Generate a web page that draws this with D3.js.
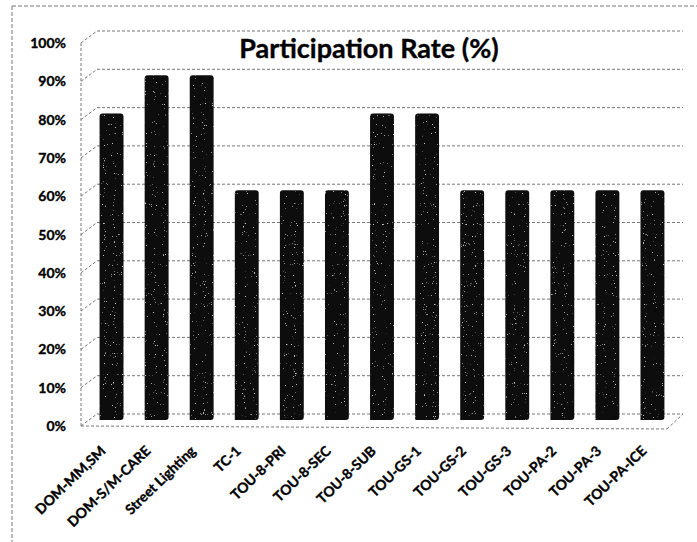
<!DOCTYPE html>
<html>
<head>
<meta charset="utf-8">
<script src="https://cdn.jsdelivr.net/npm/d3@7"></script>
<style>
  html, body { margin: 0; padding: 0; background: #fff; }
  svg { display: block; }
  text { font-family: Lato, "Open Sans", sans-serif; font-weight: 700; fill: #000; stroke: #000; stroke-width: 0.35px; }
</style>
</head>
<body>
<svg id="chart" width="697" height="542"></svg>
<script>
// Participation rate by rate schedule
const categories = ["DOM-MM,SM", "DOM-S/M-CARE", "Street Lighting", "TC-1", "TOU-8-PRI",
  "TOU-8-SEC", "TOU-8-SUB", "TOU-GS-1", "TOU-GS-2", "TOU-GS-3", "TOU-PA-2", "TOU-PA-3", "TOU-PA-ICE"];
const participation = [80, 90, 90, 60, 60, 60, 80, 80, 60, 60, 60, 60, 60];
const yTicks = [0, 10, 20, 30, 40, 50, 60, 70, 80, 90, 100];
const chartTitle = "Participation Rate (%)";

const W = 697, H = 542;
const svg = d3.select("#chart");

// 3D depth offset of the back wall relative to the front plane
const depth = { dx: 16, dy: -12 };

const x = d3.scaleBand().domain(categories).range([81, 667]).paddingInner(0.47).paddingOuter(0.235);
const y = d3.scaleLinear().domain([0, 100]).range([426, 43]);

// grainy fill for the bars
const defs = svg.append("defs");
const f = defs.append("filter").attr("id", "grain").attr("x", 0).attr("y", 0).attr("width", 1).attr("height", 1);
f.append("feTurbulence").attr("type", "fractalNoise").attr("baseFrequency", 0.9).attr("numOctaves", 1).attr("seed", 7).attr("result", "noise");
f.append("feColorMatrix").attr("in", "noise").attr("type", "matrix")
  .attr("values", "0 0 0 0 0.6  0 0 0 0 0.6  0 0 0 0 0.6  14 0 0 0 -9.7").attr("result", "specks");
f.append("feComposite").attr("in", "specks").attr("in2", "SourceGraphic").attr("operator", "in").attr("result", "specksIn");
const merge = f.append("feMerge");
merge.append("feMergeNode").attr("in", "SourceGraphic");
merge.append("feMergeNode").attr("in", "specksIn");

// outer chart frame
const frame = svg.append("g").attr("stroke", "#777").attr("stroke-width", 1).attr("stroke-dasharray", "4,2").attr("fill", "none");
frame.append("line").attr("x1", 12).attr("y1", 6).attr("x2", W).attr("y2", 6);
frame.append("line").attr("x1", 12).attr("y1", 6).attr("x2", 12).attr("y2", H);

// gridlines on the back wall plus the left-wall diagonals
const grid = svg.append("g").attr("stroke", "#777").attr("stroke-width", 1).attr("stroke-dasharray", "3,2").attr("fill", "none");
const xFront0 = 81, xFront1 = 667;
yTicks.forEach(t => {
  const yf = y(t);
  grid.append("line").attr("x1", xFront0).attr("y1", yf).attr("x2", xFront0 + depth.dx).attr("y2", yf + depth.dy);
  grid.append("line").attr("x1", xFront0 + depth.dx).attr("y1", yf + depth.dy).attr("x2", xFront1 + depth.dx).attr("y2", yf + depth.dy);
});
// left wall front edge
grid.append("line").attr("x1", xFront0).attr("y1", y(100)).attr("x2", xFront0).attr("y2", y(0));
// floor front edge and right side
grid.append("line").attr("x1", xFront0).attr("y1", y(0)).attr("x2", xFront1).attr("y2", y(0) + 3);
grid.append("line").attr("x1", xFront1).attr("y1", y(0) + 3).attr("x2", xFront1 + depth.dx).attr("y2", y(0) + depth.dy);

// bars, drawn at mid depth
const mid = { dx: depth.dx / 2, dy: depth.dy / 2 };
const bw = x.bandwidth();
const r = 3;
function barPath(v, c) {
  const x0 = x(c) + mid.dx, x1 = x0 + bw;
  const yTop = y(v) + mid.dy, yBot = y(0) + mid.dy;
  return `M${x0},${yBot} L${x0},${yTop + r} Q${x0},${yTop} ${x0 + r},${yTop} L${x1 - r},${yTop} Q${x1},${yTop} ${x1},${yTop + r} L${x1},${yBot - r} Q${x1},${yBot} ${x1 - r},${yBot} L${x0 + r},${yBot} Z`;
}
svg.append("g").selectAll("path.bar")
  .data(categories.map((c, i) => ({ c, v: participation[i] })))
  .join("path")
  .attr("class", "bar")
  .attr("d", d => barPath(d.v, d.c))
  .attr("fill", "#0c0c0c")
  .attr("filter", "url(#grain)");

// y axis labels
svg.append("g").selectAll("text.ytick")
  .data(yTicks)
  .join("text")
  .attr("class", "ytick")
  .attr("x", 66)
  .attr("y", d => y(d))
  .attr("dy", "0.36em")
  .attr("text-anchor", "end")
  .attr("font-size", 14)
  .text(d => d + "%");

// x axis labels, rotated
svg.append("g").selectAll("text.xtick")
  .data(categories)
  .join("text")
  .attr("class", "xtick")
  .attr("text-anchor", "end")
  .attr("font-size", 14)
  .attr("transform", c => `translate(${x(c) + mid.dx + bw / 2 - 5},${y(0) + 26}) rotate(-44)`)
  .text(c => c);

// title
svg.append("text")
  .attr("x", 369)
  .attr("y", 58)
  .attr("text-anchor", "middle")
  .attr("font-size", 27)
  .text(chartTitle);
</script>
</body>
</html>
